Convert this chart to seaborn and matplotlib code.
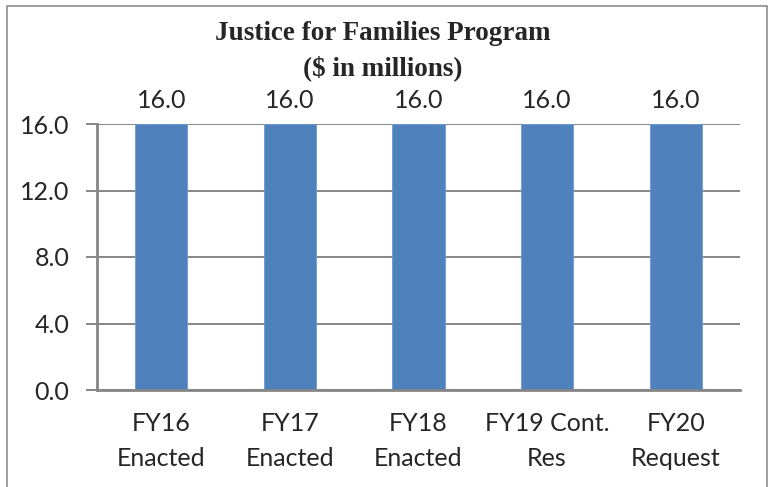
import matplotlib
matplotlib.use("Agg")
import matplotlib.pyplot as plt
import seaborn as sns
import pandas as pd
from matplotlib.patches import Rectangle

categories = ["FY16\nEnacted", "FY17\nEnacted", "FY18\nEnacted", "FY19 Cont.\nRes", "FY20\nRequest"]
values = [16.0, 16.0, 16.0, 16.0, 16.0]
yticks = [0.0, 4.0, 8.0, 12.0, 16.0]
title_lines = ["Justice for Families Program", "($ in millions)"]

sns.set_theme(style="white")
plt.rcParams['font.family'] = ['Lato', 'DejaVu Sans']

df = pd.DataFrame({"cat": categories, "val": values})

fig = plt.figure(figsize=(7.7, 4.87), dpi=100)
ax = fig.add_axes([97/770, 1-390/487, (740-97)/770, (390-124)/487])

sns.barplot(data=df, x="cat", y="val", ax=ax, color="#4F81BD", width=0.405,
            saturation=1, edgecolor="#6f9bd1", linewidth=0.6, zorder=3)

fs = 18
grid_c = "#868686"
ax.set_ylim(0, 16)
ax.set_xlim(-0.5, len(categories) - 0.5)
ax.set_yticks(yticks)
ax.set_yticklabels([f"{v:.1f}" for v in yticks], fontsize=fs)
ax.yaxis.grid(True, color=grid_c, linewidth=1.4, zorder=0)
ax.set_axisbelow(True)
ax.set_xlabel("")
ax.set_ylabel("")
ax.set_xticks(range(len(categories)))
ax.set_xticklabels(categories, fontsize=fs, linespacing=1.6)
ax.tick_params(axis="x", which="major", length=0, pad=16)
ax.set_xticks([i - 0.5 for i in range(len(categories) + 1)], minor=True)
ax.tick_params(axis="x", which="minor", length=7, width=1.8, color=grid_c, direction="out")
ax.tick_params(axis="y", length=8, width=1.4, color=grid_c, direction="out", pad=12, left=True)
for s in ["top", "right"]:
    ax.spines[s].set_visible(False)
for s in ["left", "bottom"]:
    ax.spines[s].set_color(grid_c)
    ax.spines[s].set_linewidth(2)
    ax.spines[s].set_zorder(4)

for i, v in enumerate(values):
    ax.annotate(f"{v:.1f}", (i, v), xytext=(0, 11.5), textcoords="offset points",
                ha="center", va="baseline", fontsize=fs, annotation_clip=False)

fig.text(383/770, 1-33/487, title_lines[0], ha="center", va="center", fontsize=19.5,
         fontweight="bold", family="Liberation Serif")
fig.text(383/770, 1-68/487, title_lines[1], ha="center", va="center", fontsize=19.5,
         fontweight="bold", family="Liberation Serif")

fig.patches.append(Rectangle((7/770, -0.05), (767-7)/770, 1.05 - 6/487,
                             transform=fig.transFigure, fill=False,
                             edgecolor="#8c8c8c", linewidth=1.2))

fig.savefig("out.png", dpi=100)
